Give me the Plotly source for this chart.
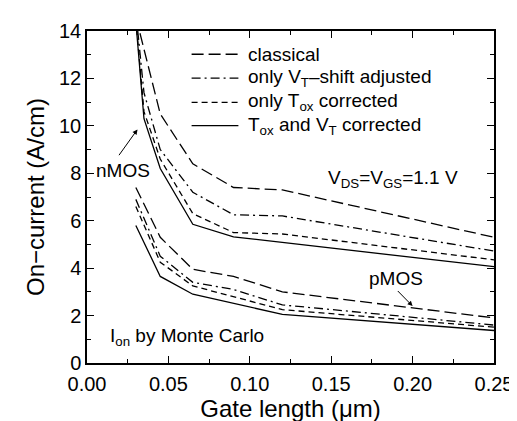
import plotly.graph_objects as go

# gate lengths (um)
L_n = [0.03, 0.035, 0.045, 0.065, 0.09, 0.12, 0.25]
L_p = [0.03, 0.045, 0.065, 0.09, 0.12, 0.25]

# nMOS on-current (A/cm)
n_classical = [14.6, 13.2, 10.5, 8.4, 7.4, 7.3, 5.3]
n_vt_only = [14.8, 11.4, 9.0, 7.2, 6.25, 6.2, 4.72]
n_tox_only = [14.5, 10.6, 8.6, 6.3, 5.5, 5.44, 4.35]
n_both = [14.4, 10.3, 8.2, 5.85, 5.32, 5.08, 4.06]

# pMOS on-current (A/cm)
p_classical = [7.4, 5.3, 3.95, 3.65, 3.0, 1.9]
p_vt_only = [6.9, 4.5, 3.4, 3.1, 2.45, 1.6]
p_tox_only = [6.6, 4.25, 3.25, 2.8, 2.25, 1.51]
p_both = [5.8, 3.65, 2.9, 2.5, 2.05, 1.37]

legend_names = ["classical",
                "only V<sub>T</sub>\u2013shift adjusted",
                "only T<sub>ox</sub> corrected",
                "T<sub>ox</sub> and V<sub>T</sub> corrected"]
dashes = ["12px,5px", "9px,4px,2px,4px", "6px,4px", "solid"]

font = "Liberation Sans, Arial, Helvetica, sans-serif"
lw = 1.3
txt = dict(size=19, color="black")

fig = go.Figure()
for yn, yp, d in zip([n_classical, n_vt_only, n_tox_only, n_both],
                     [p_classical, p_vt_only, p_tox_only, p_both], dashes):
    fig.add_trace(go.Scatter(x=L_n, y=yn, mode="lines", showlegend=False,
                             line=dict(color="black", width=lw, dash=d)))
    fig.add_trace(go.Scatter(x=L_p, y=yp, mode="lines", showlegend=False,
                             line=dict(color="black", width=lw, dash=d)))

# hand-made legend (paper coords)
rows = [0.930, 0.858, 0.785, 0.715]
for name, d, yy in zip(legend_names, dashes, rows):
    fig.add_shape(type="line", xref="paper", yref="paper", x0=0.257, x1=0.372, y0=yy, y1=yy,
                  line=dict(color="black", width=lw, dash=d))
    fig.add_annotation(xref="paper", yref="paper", x=0.39, y=yy, text=name, showarrow=False,
                       xanchor="left", yanchor="middle", font=txt)

fig.add_annotation(x=0.031, y=9.85, ax=0.019, ay=8.7, axref="x", ayref="y", text="",
                   showarrow=True, arrowhead=2, arrowsize=1, arrowwidth=1, arrowcolor="black")
fig.add_annotation(x=0.022, y=8.1, text="nMOS", showarrow=False, font=txt)
fig.add_annotation(x=0.2, y=2.4, ax=0.19, ay=3.1, axref="x", ayref="y", text="",
                   showarrow=True, arrowhead=2, arrowsize=1, arrowwidth=1, arrowcolor="black")
fig.add_annotation(x=0.19, y=3.55, text="pMOS", showarrow=False, font=txt)
fig.add_annotation(x=0.229, y=7.75, text="V<sub>DS</sub>=V<sub>GS</sub>=1.1 V", showarrow=False,
                   xanchor="right", font=txt)
fig.add_annotation(x=0.013, y=1.1, text="I<sub>on</sub> by Monte Carlo", showarrow=False,
                   xanchor="left", font=txt)

fig.update_layout(width=517, height=421, margin=dict(l=79, r=26, t=19, b=58),
                  paper_bgcolor="white", plot_bgcolor="white",
                  font=dict(family=font, size=20, color="black"))
fig.update_xaxes(range=[0, 0.25], dtick=0.05, tickformat=".2f", showline=True, linewidth=1.5,
                 linecolor="black", mirror="ticks", ticks="inside", ticklen=7, tickcolor="black",
                 showgrid=False, zeroline=False, ticklabelstandoff=2,
                 minor=dict(dtick=0.025, ticks="inside", ticklen=4, tickcolor="black", showgrid=False),
                 title=dict(text="Gate length (\u03bcm)", standoff=5))
fig.update_yaxes(range=[0, 14], dtick=2, showline=True, linewidth=1.5,
                 linecolor="black", mirror="ticks", ticks="inside", ticklen=7, tickcolor="black",
                 showgrid=False, zeroline=False,
                 minor=dict(dtick=1, ticks="inside", ticklen=4, tickcolor="black", showgrid=False),
                 title=dict(text="On\u2212current (A/cm)", standoff=8))

fig.write_html("out.html")
